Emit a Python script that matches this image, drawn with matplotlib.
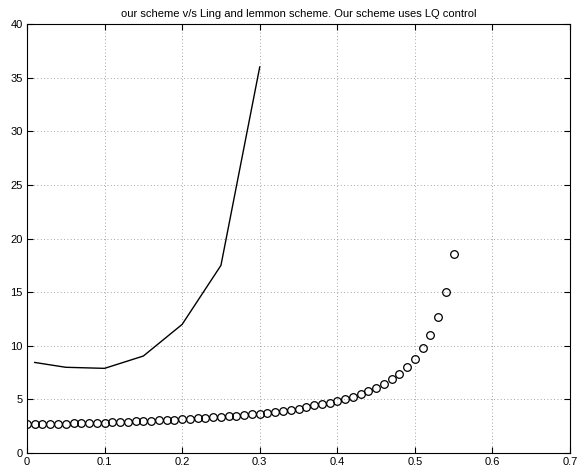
import matplotlib
matplotlib.use("Agg")
import matplotlib.pyplot as plt
import numpy as np

plt.rcParams['font.family'] = ['Liberation Sans', 'DejaVu Sans']

# Ling and Lemmon scheme (solid line)
x_line = [0.01, 0.05, 0.1, 0.15, 0.2, 0.25, 0.3]
y_line = [8.45, 8.0, 7.9, 9.05, 12.0, 17.5, 36.0]

# Our scheme with LQ control (circles)
x_circ = np.round(np.arange(0, 0.551, 0.01), 2)
y_circ = [2.70, 2.71, 2.72, 2.73, 2.74, 2.75, 2.77, 2.78, 2.80, 2.82,
          2.85, 2.87, 2.89, 2.92, 2.95, 2.98, 3.01, 3.04, 3.08, 3.12,
          3.16, 3.20, 3.24, 3.28, 3.33, 3.38, 3.43, 3.49, 3.55, 3.62,
          3.69, 3.76, 3.84, 3.92, 3.99, 4.10, 4.28, 4.44, 4.57, 4.70,
          4.85, 5.04, 5.25, 5.47, 5.75, 6.10, 6.47, 6.90, 7.37, 8.05,
          8.80, 9.77, 10.98, 12.66, 15.0, 18.6]

fig = plt.figure(figsize=(5.79, 4.71), dpi=100)
ax = fig.add_axes([0.0466, 0.038, 0.938, 0.911])

ax.plot(x_line, y_line, color='black', linewidth=1.0)
ax.plot(x_circ, y_circ, 'o', markerfacecolor='none', markeredgecolor='black',
        markersize=5.5, markeredgewidth=0.9)

ax.set_xlim(0, 0.7)
ax.set_ylim(0, 40)
ax.set_xticks(np.arange(0, 0.71, 0.1))
ax.set_xticklabels(['0', '0.1', '0.2', '0.3', '0.4', '0.5', '0.6', '0.7'])
ax.set_yticks(np.arange(0, 41, 5))
ax.tick_params(direction='in', top=True, right=True, labelsize=8, length=4, pad=3)
ax.grid(True, linestyle=(0, (1, 3)), color='#888888', linewidth=0.6)
for s in ax.spines.values():
    s.set_linewidth(0.8)

ax.set_title('our scheme v/s Ling and lemmon scheme. Our scheme uses LQ control',
             fontsize=8, pad=5)

fig.savefig('out.png', dpi=100)
